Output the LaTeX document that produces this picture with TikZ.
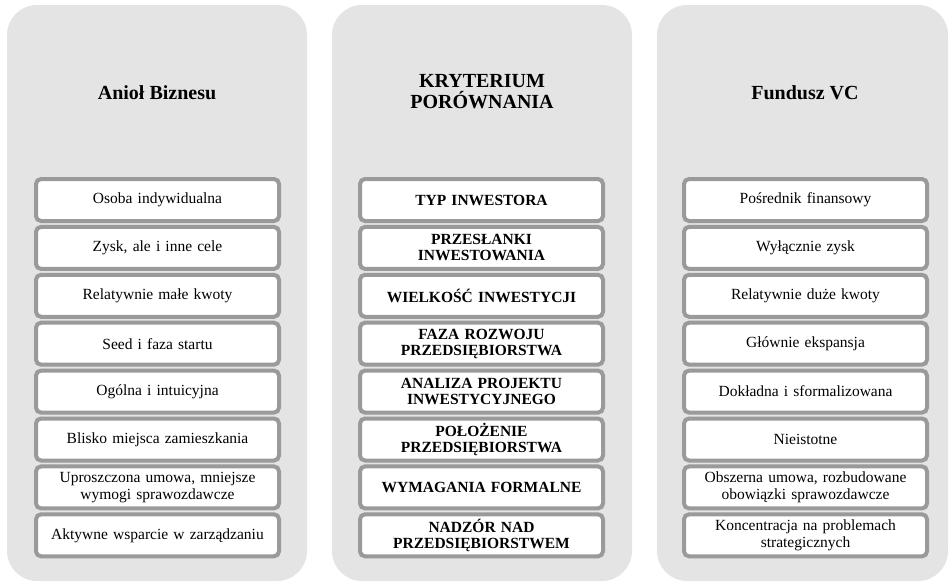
\documentclass[tikz,border=0pt]{standalone}
\usepackage{fontspec}
\setmainfont{Liberation Serif}
\definecolor{panelgray}{HTML}{E4E4E4}
\definecolor{boxgray}{HTML}{9A9A9A}
\begin{document}
\begin{tikzpicture}[x=1pt,y=-1pt,
  panel/.style={fill=panelgray,draw=none,rounded corners=30pt},
  itembox/.style={draw=boxgray,line width=4pt,fill=white,rounded corners=5pt,
    minimum width=243pt,minimum height=42pt,inner sep=1pt,align=center,
    font=\fontsize{15.5}{17}\selectfont,text width=238pt},
  critbox/.style={itembox,font=\fontsize{15.5}{16}\selectfont\bfseries},
  title/.style={font=\fontsize{20}{21}\selectfont\bfseries,align=center}]
\useasboundingbox (0,0) rectangle (950,584);
\fill[panel] (7,5) rectangle (307,581);
\fill[panel] (332,5) rectangle (632,581);
\fill[panel] (657,5) rectangle (948,581);
\node[title] (t1) at (157,93) {Anioł Biznesu};
\node[title] (t2) at (482,92) {KRYTERIUM\\PORÓWNANIA};
\node[title] (t3) at (805,93) {Fundusz VC};
\foreach \i/\t in {0/Osoba indywidualna,1/{Zysk, ale i inne cele},2/Relatywnie małe kwoty,3/Seed i faza startu,4/Ogólna i intuicyjna,5/Blisko miejsca zamieszkania,6/{Uproszczona umowa, mniejsze\\wymogi sprawozdawcze},7/Aktywne wsparcie w zarządzaniu}
  \node[itembox] (a\i) at (157.5,{200+47.9*\i}) {\t};
\foreach \i/\t in {0/TYP INWESTORA,1/{PRZESŁANKI\\INWESTOWANIA},2/WIELKOŚĆ INWESTYCJI,3/{FAZA ROZWOJU\\PRZEDSIĘBIORSTWA},4/{ANALIZA PROJEKTU\\INWESTYCYJNEGO},5/{POŁOŻENIE\\PRZEDSIĘBIORSTWA},6/WYMAGANIA FORMALNE,7/{NADZÓR NAD\\PRZEDSIĘBIORSTWEM}}
  \node[critbox] (k\i) at (481.5,{200+47.9*\i}) {\t};
\foreach \i/\t in {0/Pośrednik finansowy,1/Wyłącznie zysk,2/Relatywnie duże kwoty,3/Głównie ekspansja,4/Dokładna i sformalizowana,5/Nieistotne,6/{Obszerna umowa, rozbudowane\\obowiązki sprawozdawcze},7/{Koncentracja na problemach\\strategicznych}}
  \node[itembox] (f\i) at (805.5,{200+47.9*\i}) {\t};
\end{tikzpicture}
\end{document}
